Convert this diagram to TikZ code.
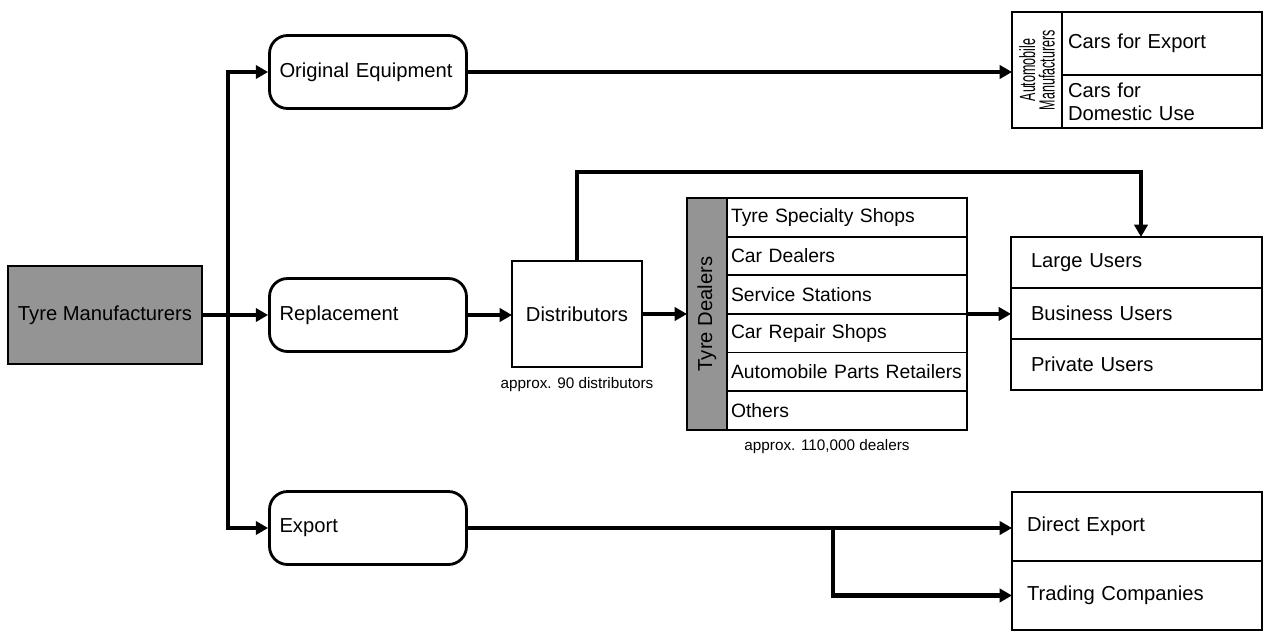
\documentclass[tikz,border=0pt]{standalone}
\usepackage{graphicx}
\usepackage{fontspec}
\setmainfont{Liberation Sans}
\usetikzlibrary{positioning,arrows.meta}

\begin{document}
\begin{tikzpicture}[x=0.02cm, y=-0.02cm, >={Triangle[length=7pt,width=7.5pt]},
  font=\fontsize{11.5}{13}\selectfont,
  flow/.style={->, line width=2.3pt},
  shade/.style={fill=black!42, draw, line width=1pt},
  channel/.style={draw, line width=1.6pt, rounded corners=0.36cm, minimum height=1.46cm,
    text width=3.54cm, inner xsep=0.2cm, align=left},
  cell/.style={draw, line width=1pt, outer sep=0pt, align=left},
  note/.style={font=\fontsize{8.7}{10}\selectfont, inner sep=1pt}]
\useasboundingbox (0,0) rectangle (1268,632);

% source and the three channels
\node[shade, minimum width=3.88cm, minimum height=1.96cm, inner sep=2pt] (maker) at (105,315) {Tyre Manufacturers};
\node[channel] (orig)   at (368,72)  {Original Equipment};
\node[channel] (repl)   at (368,315) {Replacement};
\node[channel] (export) at (368,528) {Export};
\coordinate (j) at (228,315);

% automobile manufacturers
\node[cell, rotate=90, minimum width=2.32cm, minimum height=1cm, align=center,
  font=\fontsize{12.5}{11}\selectfont] (alab) at (1037,70)
  {\scalebox{0.57}[1]{Automobile}\\\scalebox{0.57}[1]{Manufacturers}};
\node[cell, anchor=north west, text width=3.76cm, inner xsep=0.12cm, minimum height=1.26cm] (a1) at (1062,12) {Cars for Export};
\node[cell, below=0pt of a1, text width=3.76cm, inner xsep=0.12cm, minimum height=1.06cm] (a2) {Cars for\\Domestic Use};

% distributors
\node[cell, minimum width=2.6cm, minimum height=2.12cm, align=center] (distr) at (577,314) {Distributors};
\node[note, below=5pt of distr] (dnote) {approx. 90 distributors};

% tyre dealers
\node[shade, outer sep=0pt, rotate=90, minimum width=4.64cm, minimum height=0.8cm] (dlab) at (707,314) {Tyre Dealers};
\tikzset{dealrow/.style={cell, text width=4.64cm, inner xsep=0.08cm, minimum height=0.773cm,
  font=\fontsize{11}{13}\selectfont}}
\node[dealrow, anchor=north west] (d1) at (727,198) {Tyre Specialty Shops};
\node[dealrow, below=0pt of d1] (d2) {Car Dealers};
\node[dealrow, below=0pt of d2] (d3) {Service Stations};
\node[dealrow, below=0pt of d3] (d4) {Car Repair Shops};
\node[dealrow, below=0pt of d4] (d5) {Automobile Parts Retailers};
\node[dealrow, below=0pt of d5] (d6) {Others};
\node[note] (tnote) at (827,447) {approx. 110,000 dealers};

% users
\tikzset{userrow/.style={cell, text width=4.22cm, inner xsep=0.4cm, minimum height=1.02cm}}
\node[userrow, anchor=north west] (u1) at (1011,237) {Large Users};
\node[userrow, below=0pt of u1] (u2) {Business Users};
\node[userrow, below=0pt of u2] (u3) {Private Users};

% export destinations
\tikzset{exprow/.style={cell, text width=4.4cm, inner xsep=0.3cm, minimum height=1.38cm}}
\node[exprow, anchor=north west] (e1) at (1012,492) {Direct Export};
\node[exprow, below=0pt of e1] (e2) {Trading Companies};

% connectors
\draw[flow] (maker.east) -- (repl.west);
\draw[flow] (j) |- (orig.west);
\draw[flow] (j) |- (export.west);
\draw[flow] (orig.east) -- (orig.east -| alab.north);
\draw[flow] (repl.east) -- (repl.east -| distr.west);
\draw[flow] (distr.east) -- (distr.east -| dlab.north);
\coordinate (up) at (1141,172);
\draw[flow] (distr.north) |- (up) -- (up |- u1.north);
\draw[flow] (d3.south east) -- (d3.south east -| u2.west);
\draw[flow] (export.east) -- (export.east -| e1.west);
\coordinate (split) at (833,528);
\draw[flow] (split) |- (e2.west);
\end{tikzpicture}
\end{document}
